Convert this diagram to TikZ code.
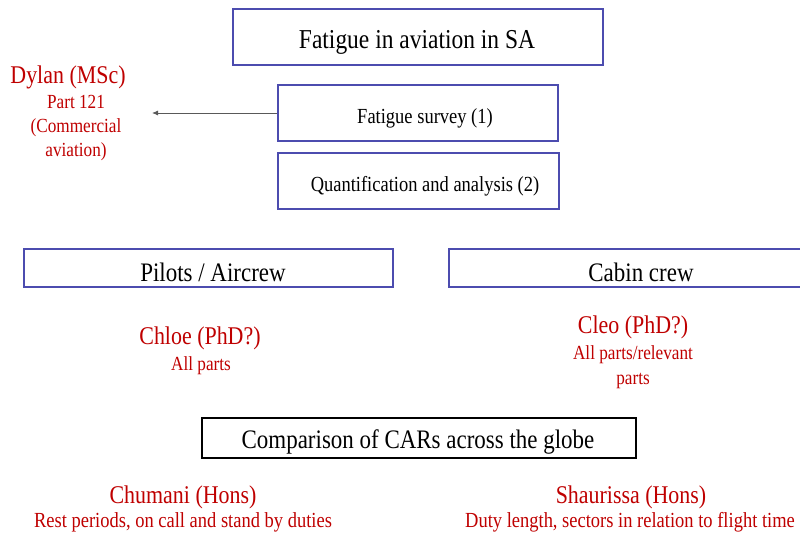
\documentclass[tikz,border=0pt]{standalone}
\usepackage{fontspec}
\setmainfont[FakeStretch=0.86]{Liberation Serif}
\usetikzlibrary{positioning,arrows.meta}
\tikzset{>=latex}
\colorlet{boxcol}{blue!55!black!70!white}
\colorlet{namecol}{red!75!black}
\tikzstyle{xbox}=[draw=boxcol,line width=2.4pt,inner sep=0pt,anchor=north west]
\tikzstyle{kbox}=[xbox,draw=black,line width=1.6pt]
\tikzstyle{who}=[namecol,align=center,inner sep=0pt]
\def\fs#1#2{\fontsize{#1}{#2}\selectfont}

\begin{document}
\begin{tikzpicture}[x=1pt,y=-1pt]
  \useasboundingbox (0,0) rectangle (800,538);

  % MAIN BOXES
  \node[xbox,minimum width=370pt,minimum height=56pt] (sa) at (232,8) {};
  \node[font=\fs{27.3}{30}] at (417,42) (satxt) {Fatigue in aviation in SA};
  \node[xbox,minimum width=280pt,minimum height=56pt] (survey) at (277,84) {};
  \node[font=\fs{21.5}{24}] at (425,118) (surveytxt) {Fatigue survey (1)};
  \node[xbox,minimum width=281pt,minimum height=56pt] (quant) at (277,152) {};
  \node[font=\fs{21.5}{24}] at (425,186) (quanttxt) {Quantification and analysis (2)};

  % DYLAN
  \node[who,font=\fs{25.5}{28}] at (68,77) (dylan) {Dylan (MSc)};
  \node[who,font=\fs{20}{24}] at (76,128) (dylanparts) {Part 121\\(Commercial\\aviation)};
  \coordinate (dyl) at (152,113);
  \draw[-{Latex[length=6pt,width=5pt]},gray!70!black,line width=0.9pt] (survey.west|-dyl) -- (dyl);

  % CREW
  \node[xbox,minimum width=369pt,minimum height=38pt] (pilots) at (23,248) {};
  \node[font=\fs{26.7}{30}] at (213,272) (pilotstxt) {Pilots / Aircrew};
  \node[xbox,minimum width=360pt,minimum height=38pt] (cabin) at (448,248) {};
  \node[font=\fs{26.7}{30}] at (641,272) (cabintxt) {Cabin crew};

  \node[who,font=\fs{25.5}{28}] at (200,338) (chloe) {Chloe (PhD?)};
  \node[who,font=\fs{20}{24}] at (201,366) (chloeparts) {All parts};
  \node[who,font=\fs{25.5}{28}] at (633,327) (cleo) {Cleo (PhD?)};
  \node[who,font=\fs{20}{25}] at (633,367) (cleoparts) {All parts/relevant\\parts};

  % CARS
  \node[kbox,minimum width=434pt,minimum height=40pt] (cars) at (201,417) {};
  \node[font=\fs{26.7}{30}] at (418,442) (carstxt) {Comparison of CARs across the globe};

  \node[who,font=\fs{25.5}{28}] at (183,497) (chumani) {Chumani (Hons)};
  \node[who,font=\fs{21.5}{24}] at (183,522) (chumanitxt) {Rest periods, on call and stand by duties};
  \node[who,font=\fs{25.5}{28}] at (631,497) (shaurissa) {Shaurissa (Hons)};
  \node[who,font=\fs{21.5}{24}] at (630,522) (shaurissatxt) {Duty length, sectors in relation to flight time};
\end{tikzpicture}
\end{document}
